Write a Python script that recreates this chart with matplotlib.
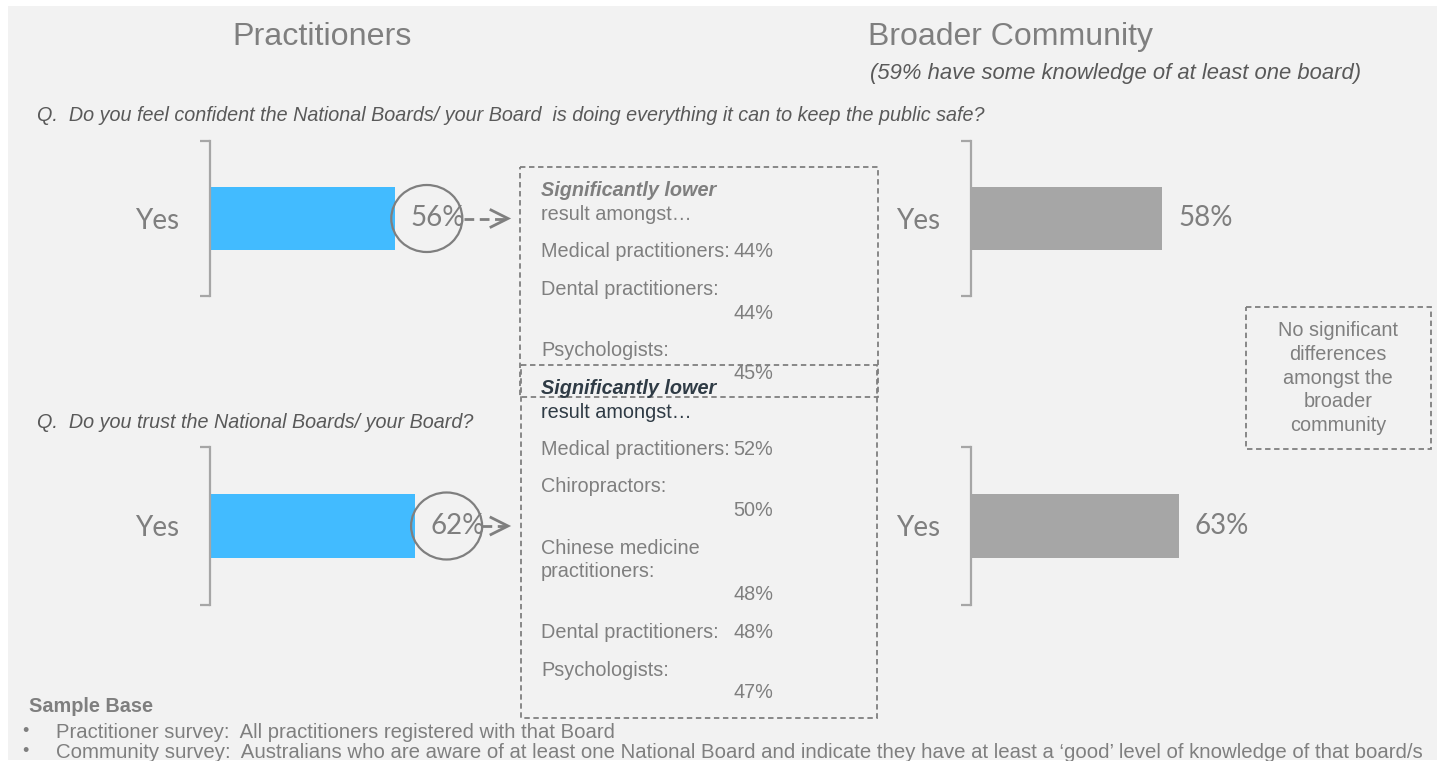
import matplotlib
matplotlib.use("Agg")
import matplotlib.pyplot as plt
from matplotlib.patches import Rectangle, Ellipse

# ---------------- data ----------------
question_top = "Q.  Do you feel confident the National Boards/ your Board  is doing everything it can to keep the public safe?"
question_bottom = "Q.  Do you trust the National Boards/ your Board?"
category = ["Yes"]
practitioners_safe = [56]
practitioners_trust = [62]
community_safe = [58]
community_trust = [63]

safe_groups = ["Medical practitioners:", "Dental practitioners:", "Psychologists:"]
safe_values = [44, 44, 45]
trust_groups = ["Medical practitioners:", "Chiropractors:", "Chinese medicine\npractitioners:",
                "Dental practitioners:", "Psychologists:"]
trust_values = [52, 50, 48, 48, 47]

# ---------------- styling ----------------
W, H = 1437, 765
BG = "#f2f2f2"
GREY_TXT = "#7f7f7f"
DARK_TXT = "#595959"
BLUE = "#42bbff"
GREY_BAR = "#a6a6a6"
LINE = "#a6a6a6"
PX_PER_PCT = 3.3
SANS = "Liberation Sans"

fig = plt.figure(figsize=(W / 100, H / 100), dpi=100, facecolor="white")
fig.patches.append(Rectangle((8 / W, 5 / H), 1 - 8 / W, 1 - 11 / H, transform=fig.transFigure,
                             facecolor=BG, edgecolor="none", zorder=-10))


def fig_rect(left, top, width, height):
    return [left / W, 1 - (top + height) / H, width / W, height / H]


def bar_axes(left, top, height, values, color):
    ax = fig.add_axes(fig_rect(left, top, 100 * PX_PER_PCT, height), zorder=2)
    ax.patch.set_alpha(0)
    bars = ax.barh([0], values, height=0.41, color=color, zorder=2)
    ax.set_xlim(0, 100)
    ax.set_ylim(-0.5, 0.5)
    for s in ["top", "right", "bottom"]:
        ax.spines[s].set_visible(False)
    ax.spines["left"].set_color(LINE)
    ax.spines["left"].set_linewidth(1.6)
    ax.set_xticks([])
    ax.set_yticks([0])
    ax.set_yticklabels(category, family="Lato", fontsize=20, color=GREY_TXT)
    ax.tick_params(axis="y", which="major", length=0, pad=22)
    ax.set_yticks([-0.5, 0.5], minor=True)
    ax.tick_params(axis="y", which="minor", length=7.5, width=1.6, color=LINE, direction="out")
    ax.bar_label(bars, labels=[f"{v}%" for v in values], padding=11.5,
                 family="Lato", fontsize=20, color=GREY_TXT)
    return ax


ax_ps = bar_axes(210, 141, 155, practitioners_safe, BLUE)
ax_pt = bar_axes(210, 447, 158, practitioners_trust, BLUE)
ax_cs = bar_axes(971, 141, 155, community_safe, GREY_BAR)
ax_ct = bar_axes(971, 447, 158, community_trust, GREY_BAR)

# overlay in pixel coordinates
ov = fig.add_axes([0, 0, 1, 1], zorder=5)
ov.set_xlim(0, W)
ov.set_ylim(H, 0)
ov.axis("off")
ov.patch.set_alpha(0)


def to_ov(ax, x, y):
    disp = ax.transData.transform((x, y))
    return ov.transData.inverted().transform(disp)


# titles
ov.text(322, 37, "Practitioners", fontsize=23.2, color=GREY_TXT, ha="center", va="center", family=SANS)
ov.text(1011, 37, "Broader Community", fontsize=23, color=GREY_TXT, ha="center", va="center", family=SANS)
ov.text(870, 73, "(59% have some knowledge of at least one board)", fontsize=15.8, color=DARK_TXT,
        ha="left", va="center", style="italic", family=SANS)
ov.text(37, 115, question_top, fontsize=14.2, color=DARK_TXT, ha="left", va="center",
        style="italic", family=SANS)
ov.text(37, 422, question_bottom, fontsize=14.2, color=DARK_TXT, ha="left", va="center",
        style="italic", family=SANS)

# circles + dashed arrows
for ax, vals, box_left, gap in [(ax_ps, practitioners_safe, 520, 37), (ax_pt, practitioners_trust, 520, 35)]:
    cx, cy = to_ov(ax, vals[0], 0)
    cx += 32
    ov.add_patch(Ellipse((cx, cy), 71, 67, facecolor="none", edgecolor=GREY_TXT, lw=1.6))
    x0 = cx + gap
    tip = box_left - 12
    ov.plot([x0, tip - 2], [cy, cy], color=GREY_TXT, lw=2, ls=(0, (3.5, 2)), solid_capstyle="butt")
    ov.plot([tip - 17, tip, tip - 17], [cy - 8.5, cy, cy + 8.5], color=GREY_TXT, lw=2,
            solid_joinstyle="miter")

# dashed boxes
box_kw = dict(facecolor="none", edgecolor=GREY_TXT, lw=1.3, ls=(0, (3, 2)))
ov.add_patch(Rectangle((520, 167), 358, 230, **box_kw))
ov.add_patch(Rectangle((521, 365), 356, 353, **box_kw))
ov.add_patch(Rectangle((1246, 307), 185, 142, **box_kw))

TX = 541
VX = 733
FS = 14.3
# box 1
ov.text(TX, 190, "Significantly lower", fontsize=FS, color=GREY_TXT, weight="bold", style="italic",
        va="center", family=SANS)
ov.text(TX, 214, "result amongst\u2026", fontsize=FS, color=GREY_TXT, va="center", family=SANS)
safe_label_y = [251, 289, 350]
safe_value_y = [251, 313, 373]
for g, v, ly, vy in zip(safe_groups, safe_values, safe_label_y, safe_value_y):
    ov.text(TX, ly, g, fontsize=FS, color=GREY_TXT, va="center", family=SANS)
    ov.text(VX, vy, f"{v}%", fontsize=FS, color=GREY_TXT, va="center", family=SANS)

# box 2
ov.text(TX, 388, "Significantly lower", fontsize=FS, color="#2f3b45", weight="bold", style="italic",
        va="center", family=SANS)
ov.text(TX, 412, "result amongst\u2026", fontsize=FS, color="#2f3b45", va="center", family=SANS)
trust_label_y = [449, 486, 560, 633, 670]
trust_value_y = [449, 510, 595, 633, 693]
for g, v, ly, vy in zip(trust_groups, trust_values, trust_label_y, trust_value_y):
    ov.text(TX, ly, g, fontsize=FS, color=GREY_TXT, va="center", family=SANS, linespacing=1.32)
    ov.text(VX, vy, f"{v}%", fontsize=FS, color=GREY_TXT, va="center", family=SANS)

# right note box
ov.text(1338, 378, "No significant\ndifferences\namongst the\nbroader\ncommunity", fontsize=14.3,
        color=GREY_TXT, ha="center", va="center", linespacing=1.33, family=SANS)

# footer
ov.text(29, 707, "Sample Base", fontsize=14.3, color=GREY_TXT, weight="bold", va="center", family=SANS)
ov.text(25, 732, "\u2022", fontsize=13, color=GREY_TXT, va="center", ha="center", family=SANS)
ov.text(25, 752, "\u2022", fontsize=13, color=GREY_TXT, va="center", ha="center", family=SANS)
ov.text(56, 732, "Practitioner survey:  All practitioners registered with that Board", fontsize=14.6,
        color=GREY_TXT, va="center", family=SANS)
ov.text(56, 752, "Community survey:  Australians who are aware of at least one National Board and indicate "
        "they have at least a \u2018good\u2019 level of knowledge of that board/s", fontsize=14.7,
        color=GREY_TXT, va="center", family=SANS)
# white bottom strip (slide is cropped there)
ov.add_patch(Rectangle((0, 761), W, 4, facecolor="white", edgecolor="none", zorder=10))

fig.savefig("out.png", dpi=100, facecolor=fig.get_facecolor())
